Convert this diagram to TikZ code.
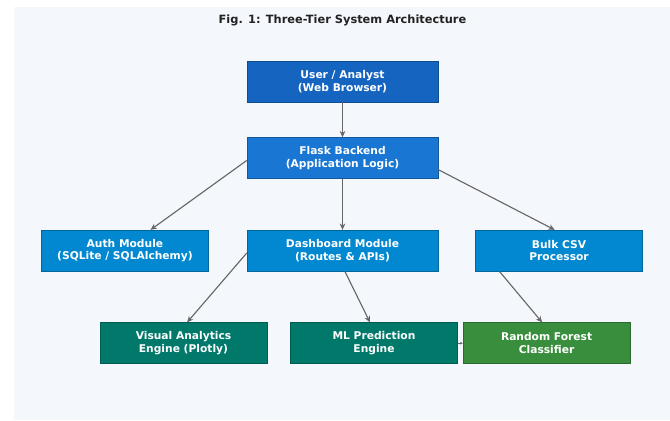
\documentclass[tikz,border=0pt]{standalone}
\usepackage{fontspec}
\setmainfont{DejaVu Sans}
\usetikzlibrary{arrows.meta,positioning}
\definecolor{panelbg}{HTML}{F4F7FB}
\definecolor{userblue}{HTML}{1565C0}
\definecolor{flaskblue}{HTML}{1976D2}
\definecolor{modblue}{HTML}{0288D1}
\definecolor{engteal}{HTML}{00796B}
\definecolor{rfgreen}{HTML}{388E3C}
\definecolor{linkgray}{HTML}{666666}
\definecolor{titlegray}{HTML}{222222}
\tikzset{
    %Define style for boxes
    box/.style={
           rectangle,
           draw=#1!75!black, thin,
           fill=#1,
           text=white,
           font=\bfseries\fontsize{7.6}{9}\selectfont,
           align=center,
           inner sep=0pt,
           minimum width=4.775cm,
           minimum height=1.025cm},
    smallbox/.style={
           box=#1,
           minimum width=4.175cm},
    % Define arrow style
    link/.style={
           -{Stealth[length=4.5pt,width=4pt]},
           draw=linkgray,
           line width=0.8pt}
}
\begin{document}
\begin{tikzpicture}
 %background
    \useasboundingbox (0,0) rectangle (16.75,-10.5);
    \fill[panelbg] (0.35,-0.175) rectangle (16.75,-10.5);
    \node[text=titlegray, font=\bfseries\fontsize{8.1}{9.5}\selectfont] (title) at (8.5625,-0.5) {Fig. 1: Three-Tier System Architecture};
 %nodes
    \node[box=userblue] (user) at (8.5625,-2.0375) {User / Analyst\\(Web Browser)};
    \node[box=flaskblue, below=0.875cm of user] (flask) {Flask Backend\\(Application Logic)};
    \node[box=modblue, below=1.275cm of flask] (dash) {Dashboard Module\\(Routes \& APIs)};
    \node[smallbox=modblue, left=0.95cm of dash] (auth) {Auth Module\\(SQLite / SQLAlchemy)};
    \node[smallbox=modblue, right=0.925cm of dash] (bulk) {Bulk CSV\\Processor};
    \node[smallbox=engteal, below=1.275cm of dash, xshift=-3.975cm] (visual) {Visual Analytics\\Engine (Plotly)};
    \node[smallbox=engteal, below=1.275cm of dash, xshift=0.7875cm] (ml) {ML Prediction\\Engine};
    \node[smallbox=rfgreen, right=0.125cm of ml] (rf) {Random Forest\\Classifier};
 %edges
    \draw[link] (user.south) -- (flask.north);
    \draw[link] ([yshift=-0.06cm]flask.west) -- ([xshift=0.64cm]auth.north);
    \draw[link] (flask.south) -- (dash.north);
    \draw[link] ([yshift=-0.29cm]flask.east) -- ([xshift=-0.11cm]bulk.north);
    \draw[link] ([yshift=-0.06cm]dash.west) -- ([xshift=0.09cm]visual.north);
    \draw[link] ([xshift=0.06cm]dash.south) -- ([xshift=-0.1cm]ml.north);
    \draw[link] ([xshift=-1.49cm]bulk.south) -- ([xshift=-0.11cm]rf.north);
    \draw[link, -{Stealth[length=2pt,width=2pt]}] (ml.east) -- (rf.west);
\end{tikzpicture}
\end{document}
